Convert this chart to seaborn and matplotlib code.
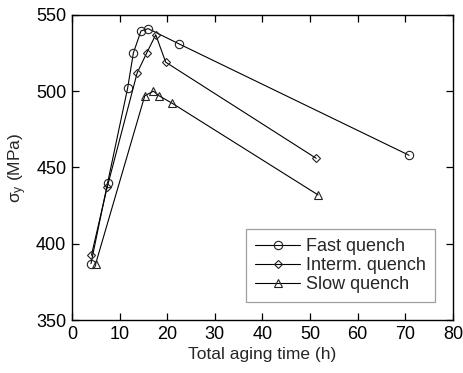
import matplotlib
matplotlib.use("Agg")
import matplotlib.pyplot as plt
import seaborn as sns
import pandas as pd

fast_t = [4.0, 7.5, 11.7, 12.9, 14.5, 16.0, 22.5, 70.8]
fast_s = [387, 440, 502, 525, 539.5, 541, 531, 458]
interm_t = [4.1, 7.4, 13.7, 15.7, 17.6, 19.7, 51.3]
interm_s = [392.5, 437, 512, 525, 537, 519, 456]
slow_t = [5.0, 15.3, 17.1, 18.3, 21.1, 51.7]
slow_s = [387, 497, 500, 497, 492, 432]

labels = ["Fast quench", "Interm. quench", "Slow quench"]

sns.set_style("ticks")
plt.rcParams['font.family'] = ['Liberation Sans', 'DejaVu Sans']
plt.rcParams['mathtext.fontset'] = 'custom'
plt.rcParams['mathtext.rm'] = 'Liberation Sans'
plt.rcParams['mathtext.it'] = 'Liberation Sans'

fig = plt.figure(figsize=(4.64, 3.73), dpi=100)
ax = fig.add_axes([0.155, 0.142, 0.821, 0.818])

series = [(fast_t, fast_s, 'o', 6), (interm_t, interm_s, 'D', 4), (slow_t, slow_s, '^', 6)]
for (t, s, m, ms), lab in zip(series, labels):
    df = pd.DataFrame({'t': t, 's': s})
    sns.lineplot(data=df, x='t', y='s', ax=ax, color='black', lw=0.8,
                 marker=m, markersize=ms, mfc='none', mec='#222222', mew=0.8,
                 sort=False, estimator=None, label=lab)

ax.set_xlim(0, 80)
ax.set_ylim(350, 550)
ax.set_xticks(range(0, 81, 10))
ax.set_yticks(range(350, 551, 50))
ax.tick_params(direction='in', top=True, right=True, length=5, width=0.9,
               labelsize=13, colors='black', pad=4)
for sp in ax.spines.values():
    sp.set_linewidth(1.0)
    sp.set_color('black')
ax.set_xlabel("Total aging time (h)", fontsize=12.5, labelpad=3)
ax.set_ylabel(r"$\sigma_y$ (MPa)", fontsize=12.5, labelpad=5)
leg = ax.legend(loc='lower right', bbox_to_anchor=(0.952, 0.058), frameon=True,
                fancybox=False, edgecolor='#888888', fontsize=13,
                handlelength=2.5, handletextpad=0.3, borderpad=0.5, labelspacing=0.12,
                borderaxespad=0)
leg.get_frame().set_linewidth(0.9)
fig.savefig("out.png", dpi=100)
